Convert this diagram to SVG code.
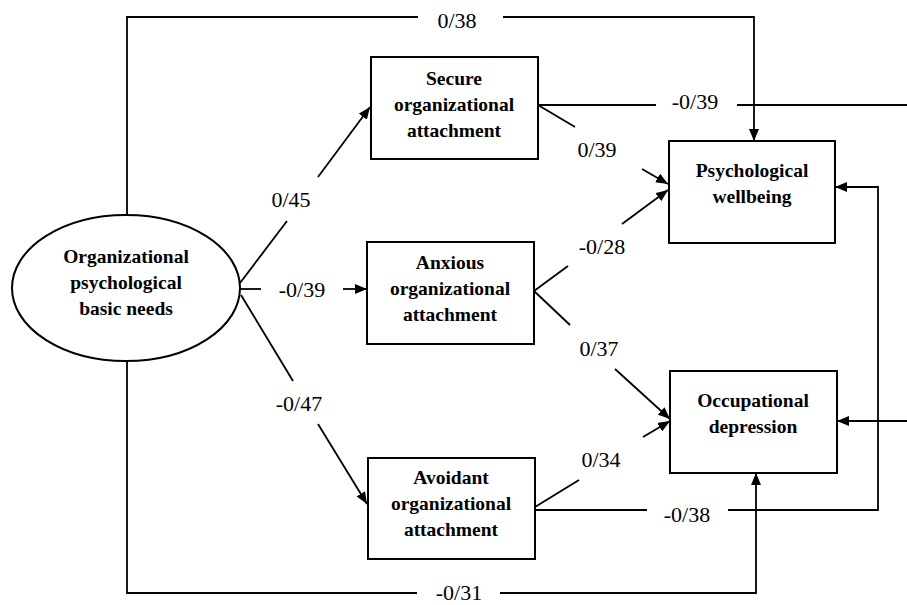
<svg xmlns="http://www.w3.org/2000/svg" width="907" height="605" viewBox="0 0 907 605" font-family="Liberation Serif, DejaVu Serif, serif">
<style>
.box{fill:#fff;stroke:#000;stroke-width:2}
.nt{font-weight:bold;font-size:19.5px;text-anchor:middle;fill:#000}
.lbl{font-size:22px;text-anchor:middle;fill:#000}
.ln{fill:none;stroke:#000;stroke-width:1.8}
.ar{marker-end:url(#ah)}
</style>
<defs>
<marker id="ah" markerUnits="userSpaceOnUse" markerWidth="12" markerHeight="10" refX="12" refY="5" orient="auto">
<path d="M0,0 L12,5 L0,10 z" fill="#000"/>
</marker>
</defs>
<rect width="907" height="605" fill="#fff"/>
<g id="connectors">
<path class="ln" d="M127,215 V17 H418"/>
<path class="ln ar" d="M503,17 H754 V141"/>
<path class="ln" d="M538,105 H656"/>
<path class="ln" d="M737,105 H912 V421"/>
<path class="ln ar" d="M912,421 H837"/>
<path class="ln" d="M535,510 H647"/>
<path class="ln ar" d="M728,510 H878 V187 H835"/>
<path class="ln" d="M127,361 V593 H417"/>
<path class="ln ar" d="M500,593 H756 V473"/>
<path class="ln" d="M240,283 L287,221"/>
<path class="ln ar" d="M318,177 L370,107"/>
<path class="ln" d="M240,289 H261"/>
<path class="ln ar" d="M343,289 H367"/>
<path class="ln" d="M241,295 L293,381"/>
<path class="ln ar" d="M318,424 L367,504"/>
<path class="ln" d="M538,105 L575,127"/>
<path class="ln ar" d="M642,169 L668,184"/>
<path class="ln" d="M534,291 L568,266"/>
<path class="ln ar" d="M622,224 L668,190"/>
<path class="ln" d="M534,291 L570,325"/>
<path class="ln ar" d="M615,369 L670,419"/>
<path class="ln" d="M535,507 L579,480"/>
<path class="ln ar" d="M643,437 L670,421"/>
<text class="lbl" x="457" y="28">0/38</text>
<text class="lbl" x="695" y="109">-0/39</text>
<text class="lbl" x="597" y="157">0/39</text>
<text class="lbl" x="291" y="207">0/45</text>
<text class="lbl" x="602" y="254">-0/28</text>
<text class="lbl" x="302" y="297">-0/39</text>
<text class="lbl" x="599" y="356">0/37</text>
<text class="lbl" x="299" y="411">-0/47</text>
<text class="lbl" x="601" y="467">0/34</text>
<text class="lbl" x="687" y="522">-0/38</text>
<text class="lbl" x="459" y="600">-0/31</text>
</g>
<g id="needs">
<ellipse class="box" cx="126" cy="288" rx="114" ry="73"/>
<text class="nt" x="126" y="263">Organizational</text>
<text class="nt" x="126" y="289">psychological</text>
<text class="nt" x="126" y="315">basic needs</text>
</g>
<g id="secure">
<rect class="box" x="371" y="57" width="167" height="102"/>
<text class="nt" x="454" y="85">Secure</text>
<text class="nt" x="454" y="111">organizational</text>
<text class="nt" x="454" y="137">attachment</text>
</g>
<g id="anxious">
<rect class="box" x="367" y="242" width="167" height="102"/>
<text class="nt" x="450" y="269">Anxious</text>
<text class="nt" x="450" y="295">organizational</text>
<text class="nt" x="450" y="321">attachment</text>
</g>
<g id="avoidant">
<rect class="box" x="368" y="458" width="167" height="101"/>
<text class="nt" x="451" y="484">Avoidant</text>
<text class="nt" x="451" y="510">organizational</text>
<text class="nt" x="451" y="536">attachment</text>
</g>
<g id="wellbeing">
<rect class="box" x="669" y="141" width="166" height="102"/>
<text class="nt" x="752" y="177">Psychological</text>
<text class="nt" x="752" y="203">wellbeing</text>
</g>
<g id="depression">
<rect class="box" x="670" y="371" width="167" height="102"/>
<text class="nt" x="753" y="407">Occupational</text>
<text class="nt" x="753" y="433">depression</text>
</g>
</svg>
